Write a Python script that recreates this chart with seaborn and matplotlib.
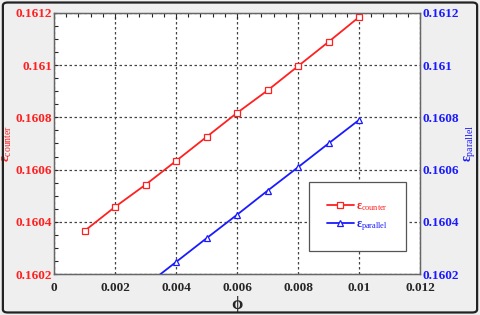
import numpy as np
import matplotlib
matplotlib.use('Agg')
import matplotlib.pyplot as plt
import seaborn as sns
from matplotlib.patches import FancyBboxPatch
from matplotlib.ticker import MultipleLocator

phi = [0.001, 0.002, 0.003, 0.004, 0.005, 0.006, 0.007, 0.008, 0.009, 0.010]
eps_counter = [0.160365, 0.160457, 0.160542, 0.160633, 0.160725,
               0.160817, 0.160903, 0.160996, 0.161089, 0.161184]
eps_parallel = [0.159975, 0.160065, 0.160155, 0.160246, 0.160337,
                0.160427, 0.160519, 0.160609, 0.160700, 0.160790]

sns.set_style('white')
plt.rcParams['font.family'] = ['Liberation Serif', 'DejaVu Serif']
plt.rcParams['mathtext.fontset'] = 'custom'
plt.rcParams['mathtext.rm'] = 'Liberation Serif:bold'
plt.rcParams['mathtext.it'] = 'Liberation Serif:bold'
plt.rcParams['mathtext.bf'] = 'Liberation Serif:bold'

fig = plt.figure(figsize=(4.8, 3.15), dpi=100, facecolor='#efefef')
fig.patches.append(FancyBboxPatch((0.006, 0.008), 0.988, 0.984, boxstyle='round,pad=0,rounding_size=0.01',
                                  transform=fig.transFigure, fill=False, lw=1.6, ec='#222222'))
ax = fig.add_axes([0.1125, 0.13, 0.7625, 0.829])
ax2 = ax.twinx()

sns.lineplot(x=phi, y=eps_counter, ax=ax, color='#ff2020', lw=1.3, marker='s',
             markersize=4.5, markerfacecolor='white', markeredgecolor='#ff2020', markeredgewidth=0.9,
             label=r'$\varepsilon_{\mathregular{counter}}$', legend=False)
sns.lineplot(x=phi, y=eps_parallel, ax=ax2, color='#1a1aff', lw=1.3, marker='^',
             markersize=4.5, markerfacecolor='white', markeredgecolor='#1a1aff', markeredgewidth=0.9,
             label=r'$\varepsilon_{\mathregular{parallel}}$', legend=False)

for a in (ax, ax2):
    a.set_ylim(0.1602, 0.1612)
    a.yaxis.set_major_locator(MultipleLocator(0.0002))
    a.yaxis.set_minor_locator(MultipleLocator(0.00005))
ax.set_xlim(0, 0.012)
ax.xaxis.set_major_locator(MultipleLocator(0.002))
ax.xaxis.set_minor_locator(MultipleLocator(0.0004))

ylabels = ['0.1602', '0.1604', '0.1606', '0.1608', '0.161', '0.1612']
xlabels = ['0', '0.002', '0.004', '0.006', '0.008', '0.01', '0.012']
ax.set_xticks(np.arange(0, 0.0121, 0.002))
ax.set_xticklabels(xlabels, fontsize=9.5, fontweight='bold')
ax.set_yticks(np.arange(0.1602, 0.16121, 0.0002))
ax.set_yticklabels(ylabels, fontsize=9.5, fontweight='bold', color='#ff2020')
ax2.set_yticks(np.arange(0.1602, 0.16121, 0.0002))
ax2.set_yticklabels(ylabels, fontsize=9.5, fontweight='bold', color='#1a1aff')

ax.tick_params(axis='both', which='both', direction='in', top=True, length=3, width=0.8, pad=1.5)
ax.tick_params(axis='x', which='major', length=4, pad=6)
ax2.tick_params(axis='y', which='both', direction='in', length=0, pad=2)

ax.grid(True, which='major', ls=(0, (2, 2)), color='#444444', lw=0.9)
ax.set_facecolor('white')
for sp in ax.spines.values():
    sp.set_color('#666666')
    sp.set_linewidth(1.0)
for sp in ax2.spines.values():
    sp.set_color('#666666')

ax.set_xlabel(r'$\phi$', fontsize=13, labelpad=0)
ax.set_ylabel(r'$\varepsilon_{\mathregular{counter}}$', fontsize=10, color='#ff2020', labelpad=1)
ax2.set_ylabel(r'$\varepsilon_{\mathregular{parallel}}$', fontsize=10, color='#1a1aff', labelpad=2)

h1, l1 = ax.get_legend_handles_labels()
h2, l2 = ax2.get_legend_handles_labels()
leg = ax2.legend(h1 + h2, l1 + l2, loc='center', bbox_to_anchor=(0.829, 0.22), frameon=True,
                 fancybox=False, edgecolor='#555555', framealpha=1, fontsize=8.5, handlelength=2.3,
                 borderpad=1.5, labelspacing=0.5, handletextpad=0.2, borderaxespad=0)
leg.get_frame().set_linewidth(0.9)
for t, c in zip(leg.get_texts(), ['#ff2020', '#1a1aff']):
    t.set_color(c)

fig.savefig('out.png', dpi=100, facecolor=fig.get_facecolor())
